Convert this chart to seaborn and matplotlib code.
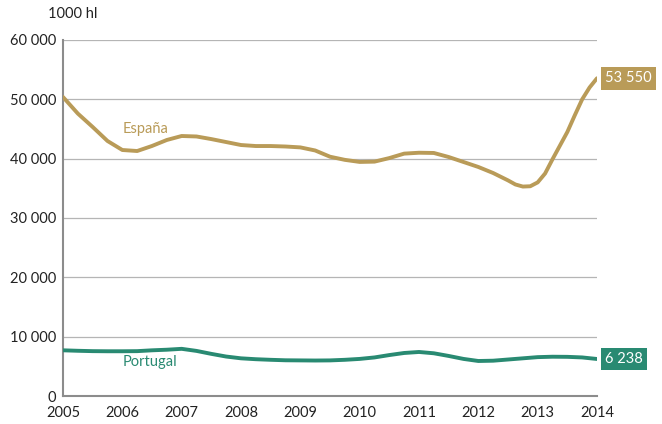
import numpy as np
import pandas as pd
import seaborn as sns
import matplotlib.pyplot as plt

# Readings in thousand hectolitres: quarterly, with eighth-year steps
# through the sharp 2012-2014 turn of the Spanish series
esp_years = [2005 + q * 0.25 for q in range(31)] + [
    2012.625, 2012.75, 2012.875, 2013.0, 2013.125, 2013.25, 2013.375,
    2013.5, 2013.625, 2013.75, 2013.875, 2014.0]
espana = [50390, 47600, 45340, 42980, 41460, 41290, 42140, 43150, 43820,
          43740, 43300, 42800, 42300, 42130, 42130, 42050, 41900, 41380,
          40330, 39800, 39450, 39500, 40100, 40850, 41000, 40960, 40280,
          39440, 38600, 37580, 36340,
          35650, 35300, 35350, 36000, 37500, 39900, 42200,
          44500, 47300, 50000, 52000, 53550]
por_years = [2005 + q * 0.25 for q in range(37)]
portugal = [7700, 7620, 7560, 7540, 7540, 7560, 7700, 7800, 7950, 7600,
            7100, 6650, 6350, 6200, 6100, 6020, 6000, 5980, 6000, 6100,
            6250, 6500, 6900, 7250, 7420, 7200, 6750, 6250, 5900, 5950,
            6150, 6350, 6550, 6620, 6600, 6500, 6238]
series_names = ["España", "Portugal"]
year_ticks = list(range(2005, 2015))
value_ticks = [0, 10000, 20000, 30000, 40000, 50000, 60000]

colors = {"España": "#B99B58", "Portugal": "#298A72"}

df = pd.DataFrame({
    "year": esp_years + por_years,
    "value": espana + portugal,
    "country": [series_names[0]] * len(espana) + [series_names[1]] * len(portugal),
})

sns.set_theme(style="white")
plt.rcParams["font.family"] = ["Lato", "DejaVu Sans"]

fig = plt.figure(figsize=(6.62, 4.24), dpi=100)
ax = fig.add_axes([63 / 662, 28 / 424, (597 - 63) / 662, (396 - 40) / 424])

sns.lineplot(data=df, x="year", y="value", hue="country", palette=colors,
             linewidth=2.8, legend=False, ax=ax, sort=True,
             solid_capstyle="round", solid_joinstyle="round", zorder=3)

ax.set_xlim(2005, 2014)
ax.set_ylim(0, 60000)
ax.set_xticks(year_ticks)
ax.set_xticklabels([str(y) for y in year_ticks])
ax.set_yticks(value_ticks)
ax.set_yticklabels([f"{v:,}".replace(",", " ") for v in value_ticks])
ax.set_xlabel("")
ax.set_ylabel("")
ax.tick_params(axis="both", length=0, labelsize=10.5, colors="#222222")
ax.tick_params(axis="x", pad=7)
ax.tick_params(axis="y", pad=5)

ax.grid(axis="y", color="#b5b5b5", linewidth=0.9)
ax.set_axisbelow(True)
for side in ["top", "right"]:
    ax.spines[side].set_visible(False)
for side in ["left", "bottom"]:
    ax.spines[side].set_color("#8c8c8c")
    ax.spines[side].set_linewidth(1.5)

# unit label above the value axis
fig.text(48 / 662, 1 - 14 / 424, "1000 hl", fontsize=10.5, color="#222222",
         ha="left", va="center")

# series names next to their lines
ax.text(2006.0, 45000, "España", color=colors["España"], fontsize=10.5,
        ha="left", va="center")
ax.text(2006.0, 5800, "Portugal", color=colors["Portugal"], fontsize=10.5,
        ha="left", va="center")

# end-of-series value boxes
for name, vals in (("España", espana), ("Portugal", portugal)):
    last = vals[-1]
    ax.annotate(f"{last:,}".replace(",", " "), xy=(2014, last),
                xytext=(6, 0), textcoords="offset points",
                ha="left", va="center", fontsize=10.5, color="white",
                annotation_clip=False,
                bbox=dict(boxstyle="square,pad=0.3", fc=colors[name],
                          ec="none"))

fig.savefig("out.png", dpi=100)
